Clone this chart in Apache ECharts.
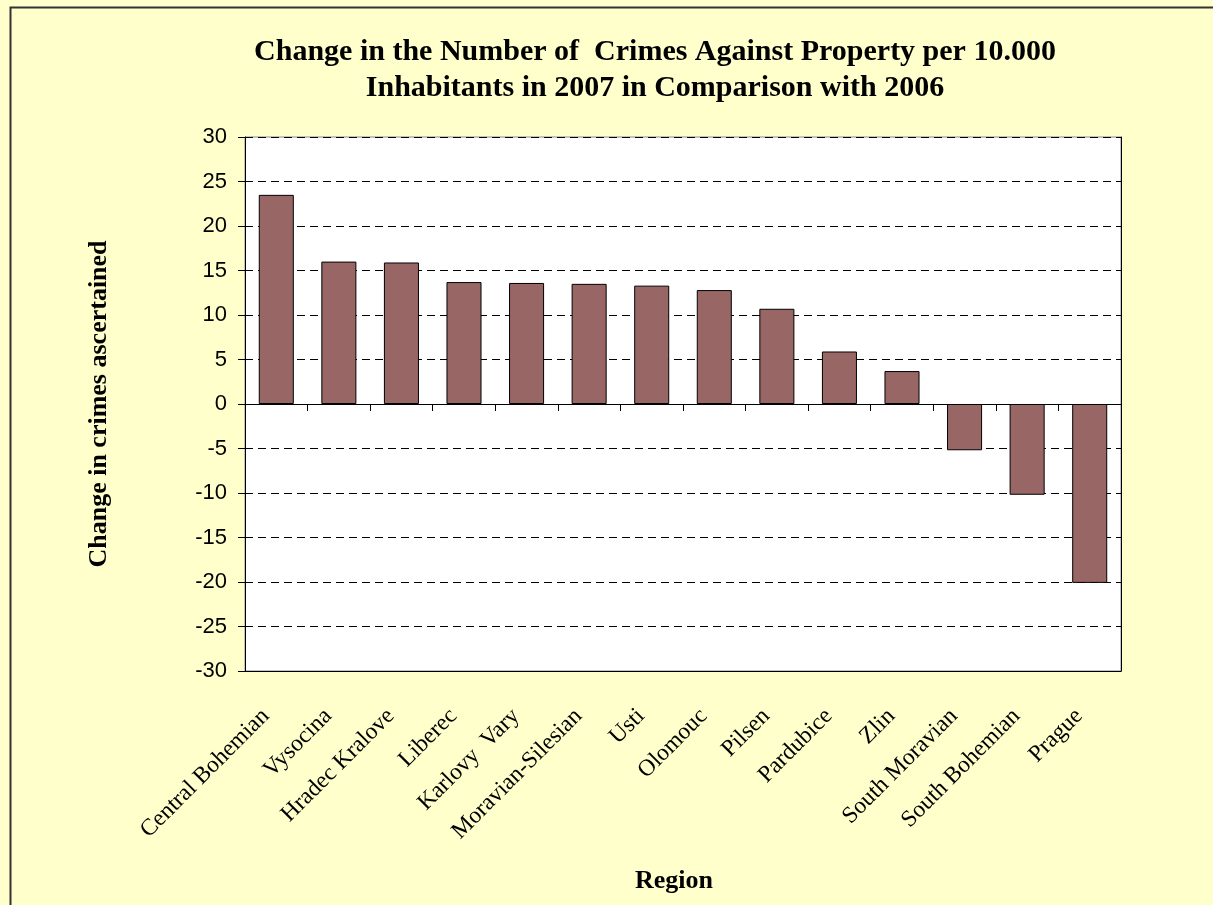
<!DOCTYPE html>
<html>
<head>
<meta charset="utf-8">
<script src="https://cdn.jsdelivr.net/npm/echarts@6/dist/echarts.min.js"></script>
<style>
  html, body { margin: 0; padding: 0; background: #FFFFCC; }
  #chart { width: 1213px; height: 905px; }
</style>
</head>
<body>
<div id="chart"></div>
<script>
// Regions, ordered by the change in crimes against property
const categories = ['Central Bohemian', 'Vysocina', 'Hradec Kralove', 'Liberec', 'Karlovy  Vary',
  'Moravian-Silesian', 'Usti', 'Olomouc', 'Pilsen', 'Pardubice', 'Zlin',
  'South Moravian', 'South Bohemian', 'Prague'];
// Change per 10,000 inhabitants, 2007 vs 2006
const changes = [23.5, 16.0, 15.9, 13.7, 13.6, 13.5, 13.3, 12.8, 10.7, 5.9, 3.7, -5.2, -10.2, -20.1];
// Value axis range and step
const yMin = -30;
const yMax = 30;
const yStep = 5;

const titleText = 'Change in the Number of  Crimes Against Property per 10.000\nInhabitants in 2007 in Comparison with 2006';

const chart = echarts.init(document.getElementById('chart'), null, { renderer: 'canvas' });

chart.setOption({
  backgroundColor: '#FFFFCC',
  animation: false,
  title: {
    text: titleText,
    left: 650,
    top: 29,
    textAlign: 'center',
    textStyle: {
      fontFamily: 'Liberation Serif',
      fontWeight: 'bold',
      fontSize: 30,
      lineHeight: 36,
      color: '#000'
    }
  },
  graphic: [{
    type: 'rect',
    left: 8,
    top: 5,
    shape: { width: 1230, height: 930 },
    style: { fill: 'none', stroke: '#333', lineWidth: 2 },
    silent: true
  }],
  grid: {
    left: 245,
    top: 137,
    right: 92,
    bottom: 234,
    show: true,
    backgroundColor: '#FFFFFF',
    borderColor: '#888',
    borderWidth: 1
  },
  xAxis: [{
    // zero line with tick marks between categories
    type: 'category',
    data: categories,
    position: 'bottom',
    axisLine: { show: true, onZero: true, lineStyle: { color: '#000', width: 1 } },
    axisTick: { show: true, interval: 0, length: 7, alignWithLabel: false, lineStyle: { color: '#000' } },
    axisLabel: { show: false },
    splitLine: { show: false }
  }, {
    // bottom edge carrying the region names
    type: 'category',
    data: categories,
    position: 'bottom',
    axisLine: { show: true, onZero: false, lineStyle: { color: '#000', width: 1 } },
    axisTick: { show: false },
    axisLabel: {
      show: true,
      interval: 0,
      rotate: 45,
      margin: 31,
      padding: [0, 15, 0, 0],
      fontFamily: 'Liberation Serif',
      fontSize: 23.5,
      color: '#000'
    },
    name: 'Region',
    nameLocation: 'middle',
    nameGap: 197,
    nameTextStyle: {
      fontFamily: 'Liberation Serif',
      fontWeight: 'bold',
      fontSize: 26,
      color: '#000',
      padding: [0, 18, 0, 0]
    }
  }],
  yAxis: [{
    type: 'value',
    min: yMin,
    max: yMax,
    interval: yStep,
    axisLine: { show: true, lineStyle: { color: '#000', width: 1 } },
    axisTick: { show: true, length: 7, lineStyle: { color: '#000' } },
    axisLabel: {
      margin: 18,
      fontFamily: 'Liberation Sans',
      fontSize: 22,
      color: '#000'
    },
    splitLine: {
      show: true,
      lineStyle: { color: '#000', width: 1, type: [8, 5] }
    },
    name: 'Change in crimes ascertained',
    nameLocation: 'middle',
    nameGap: 133,
    nameTextStyle: {
      fontFamily: 'Liberation Serif',
      fontWeight: 'bold',
      fontSize: 26,
      color: '#000'
    }
  }, {
    // right edge of the plot area
    type: 'value',
    min: yMin,
    max: yMax,
    interval: yStep,
    position: 'right',
    axisLine: { show: true, lineStyle: { color: '#000', width: 1 } },
    axisTick: { show: false },
    axisLabel: { show: false },
    splitLine: { show: false }
  }],
  series: [{
    type: 'bar',
    xAxisIndex: 0,
    yAxisIndex: 0,
    data: changes,
    barCategoryGap: '44%',
    itemStyle: {
      color: '#996666',
      borderColor: '#000',
      borderWidth: 1
    }
  }]
});
</script>
</body>
</html>
